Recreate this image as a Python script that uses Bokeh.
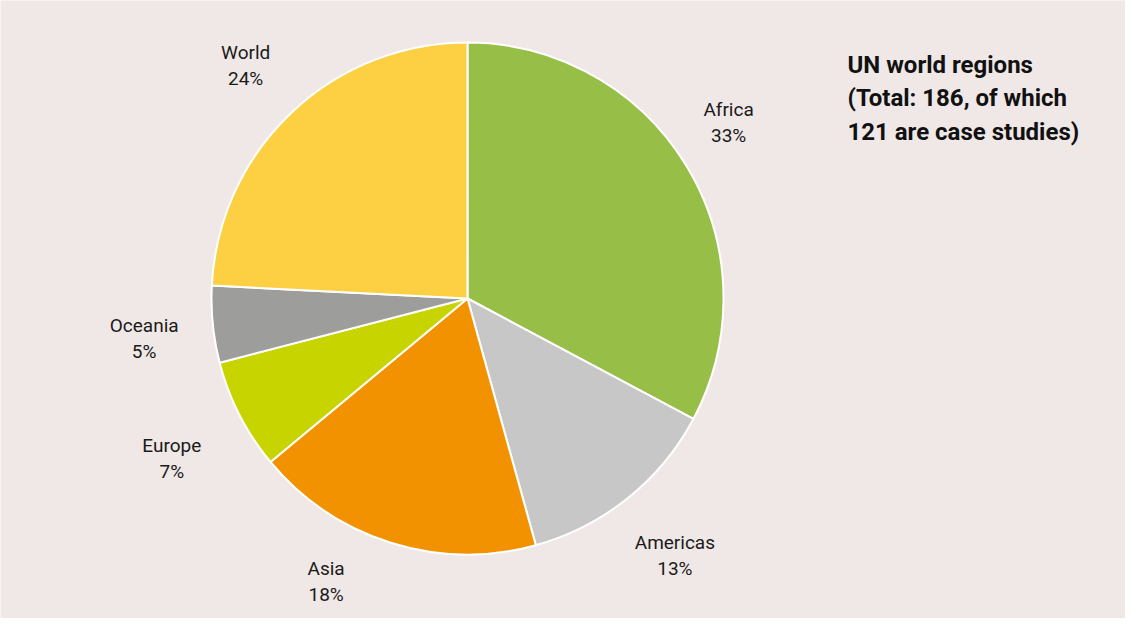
import math
from bokeh.plotting import figure
from bokeh.models import Range1d, ColumnDataSource
from bokeh.core.properties import value
from bokeh.embed import file_html
from bokeh.resources import INLINE

# ---- data ----
regions = ["Africa", "Americas", "Asia", "Europe", "Oceania", "World"]
counts = [61, 24, 34, 13, 9, 45]
percent_labels = ["33%", "13%", "18%", "7%", "5%", "24%"]
colors = ["#97bf47", "#c6c7c6", "#f39200", "#c8d400", "#9d9d9c", "#fdd043"]
title_lines = ["UN world regions", "(Total: 186, of which", "121 are case studies)"]

# ---- layout ----
W, H = 1125, 618
BG = "#f0e8e6"
cx, cy = 467, H - (306 - 8)
R = 256
label_r = 322
nudge = {"Asia": (-45, 24), "Americas": (6, -6), "Africa": (-15, 10),
         "Europe": (-9, -13), "Oceania": (-3, -7)}

total = sum(counts)
starts, ends, lx, ly = [], [], [], []
cum = 0
for reg, c in zip(regions, counts):
    a0 = cum / total * 2 * math.pi
    cum += c
    a1 = cum / total * 2 * math.pi
    starts.append(math.pi / 2 - a0)
    ends.append(math.pi / 2 - a1)
    mid = (a0 + a1) / 2
    dx, dy = nudge.get(reg, (0, 0))
    lx.append(cx + label_r * math.sin(mid) + dx)
    ly.append(cy + label_r * math.cos(mid) + dy)

src = ColumnDataSource(dict(start=starts, end=ends, color=colors, region=regions))
name_src = ColumnDataSource(dict(x=lx, y=ly, text=regions))
pct_src = ColumnDataSource(dict(x=lx, y=ly, text=percent_labels))

p = figure(width=W, height=H, output_backend="svg", toolbar_location=None,
           x_range=Range1d(0, W), y_range=Range1d(0, H), min_border=0)
p.axis.visible = False
p.grid.visible = False
p.outline_line_color = None
p.background_fill_color = BG
p.border_fill_color = BG

p.wedge(x=cx, y=cy, radius=R, start_angle="start", end_angle="end", direction="clock",
        fill_color="color", line_color="white", line_width=2, source=src)

common = dict(text_align="center", text_baseline="middle", text_font=value("Roboto"),
              text_font_size="19px", text_color="#1a1a1a")
p.text(x="x", y="y", text="text", source=name_src, y_offset=-13, **common)
p.text(x="x", y="y", text="text", source=pct_src, y_offset=13, **common)

p.text(x=[847] * 3, y=[H - (72 - 8)] * 3, text=title_lines, y_offset=[0, 33.5, 67],
       text_align="left", text_baseline="middle", text_font=value("Roboto"),
       text_font_style="bold", text_font_size="24px", text_color="#111111")

open("out.html", "w").write(file_html(p, INLINE))
